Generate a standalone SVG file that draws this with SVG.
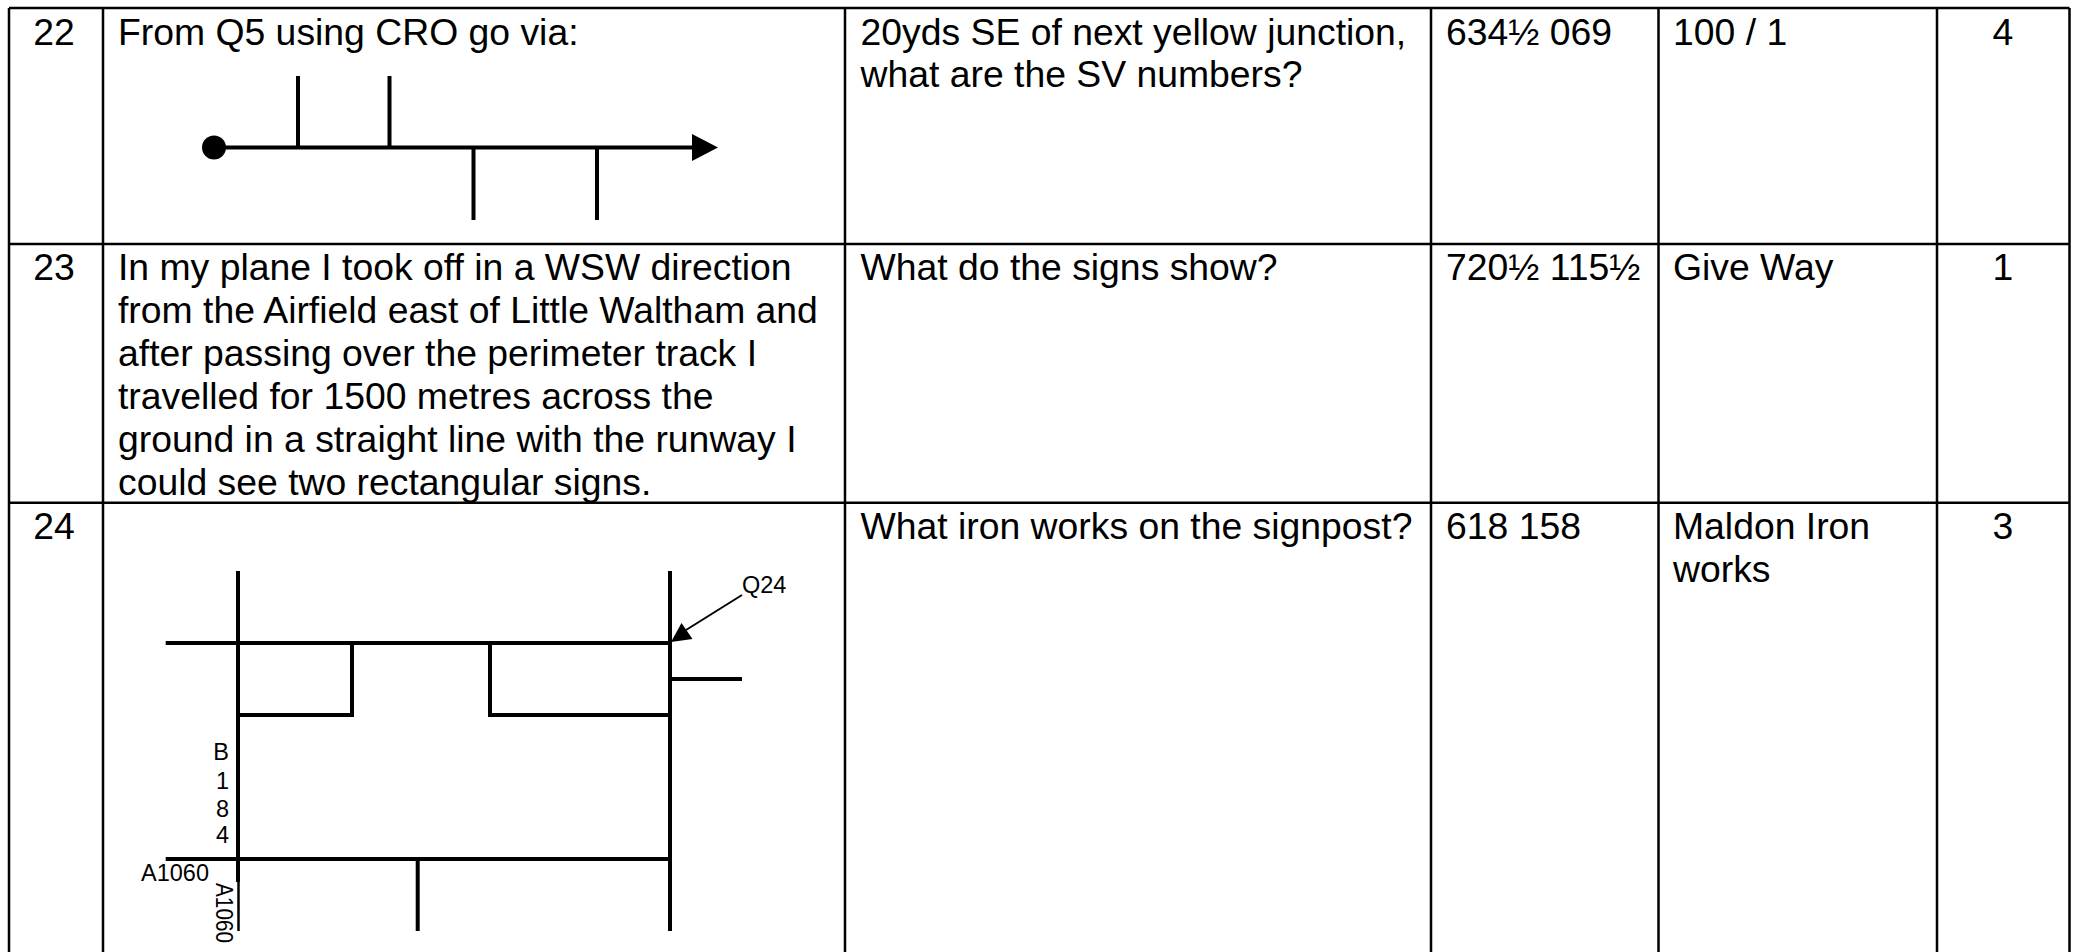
<svg xmlns="http://www.w3.org/2000/svg" width="2076" height="952" viewBox="0 0 2076 952">
<style>
text{font-family:"Liberation Sans",Arial,sans-serif;fill:#000}
.c{font-size:37.330px}
.s{font-size:23.500px}
.g{stroke:#000;stroke-width:2.500;fill:none}
.r{stroke:#000;stroke-width:4;fill:none}
</style>
<rect width="2076" height="952" fill="#fff"/>
<g id="grid" class="g">
<path d="M9 8H2069.500M9 244H2069.500M9 502.700H2069.500M9 8V952M103 8V952M845 8V952M1431 8V952M1658.500 8V952M1937 8V952M2069.500 8V952"/>
</g>
<g id="row22">
<text class="c" x="54" y="45" text-anchor="middle">22</text>
<text class="c" x="118" y="45">From Q5 using CRO go via:</text>
<text class="c" x="860.500" y="45">20yds SE of next yellow junction,</text>
<text class="c" x="860.500" y="87">what are the SV numbers?</text>
<text class="c" x="1446" y="45">634½ 069</text>
<text class="c" x="1673" y="45">100 / 1</text>
<text class="c" x="2003" y="45" text-anchor="middle">4</text>
</g>
<g id="row23">
<text class="c" x="54" y="280" text-anchor="middle">23</text>
<text class="c" x="118" y="280">In my plane I took off in a WSW direction</text>
<text class="c" x="118" y="323">from the Airfield east of Little Waltham and</text>
<text class="c" x="118" y="366">after passing over the perimeter track I</text>
<text class="c" x="118" y="409">travelled for 1500 metres across the</text>
<text class="c" x="118" y="452">ground in a straight line with the runway I</text>
<text class="c" x="118" y="495">could see two rectangular signs.</text>
<text class="c" x="860.500" y="280">What do the signs show?</text>
<text class="c" x="1446" y="280">720½ 115½</text>
<text class="c" x="1673" y="280">Give Way</text>
<text class="c" x="2003" y="280" text-anchor="middle">1</text>
</g>
<g id="row24">
<text class="c" x="54" y="539" text-anchor="middle">24</text>
<text class="c" x="860.500" y="539">What iron works on the signpost?</text>
<text class="c" x="1446" y="539">618 158</text>
<text class="c" x="1673" y="539">Maldon Iron</text>
<text class="c" x="1673" y="582">works</text>
<text class="c" x="2003" y="539" text-anchor="middle">3</text>
</g>
<g id="connectors">
<g id="route22">
<circle cx="214" cy="147.500" r="12"/>
<path class="r" d="M214 147.500H695"/>
<path d="M692 134L718 147.500L692 161Z"/>
<path class="r" d="M298 76V147M389.500 76V147M473.500 148V220M597 148V220"/>
</g>
<g id="map24">
<path class="r" d="M238 571V882M165.700 643H670M165.700 859H670M352 643V715H238M490 643V715H670M670 571V931M670 679H742M417.700 859V931"/>
<path class="g" d="M238.500 882V931"/>
<path d="M742 595L686 630" stroke="#000" stroke-width="2" fill="none"/>
<path d="M671 642L681.500 623L692.500 639Z"/>
</g>
</g>
<g id="maplabels">
<text class="s" x="742" y="593">Q24</text>
<text class="s" x="229" y="760" text-anchor="end">B</text>
<text class="s" x="229" y="788.500" text-anchor="end">1</text>
<text class="s" x="229" y="817" text-anchor="end">8</text>
<text class="s" x="229" y="843" text-anchor="end">4</text>
<text class="s" x="141" y="881">A1060</text>
<text class="s" transform="translate(216 883) rotate(90)" textLength="60" lengthAdjust="spacingAndGlyphs">A1060</text>
</g>
</svg>
